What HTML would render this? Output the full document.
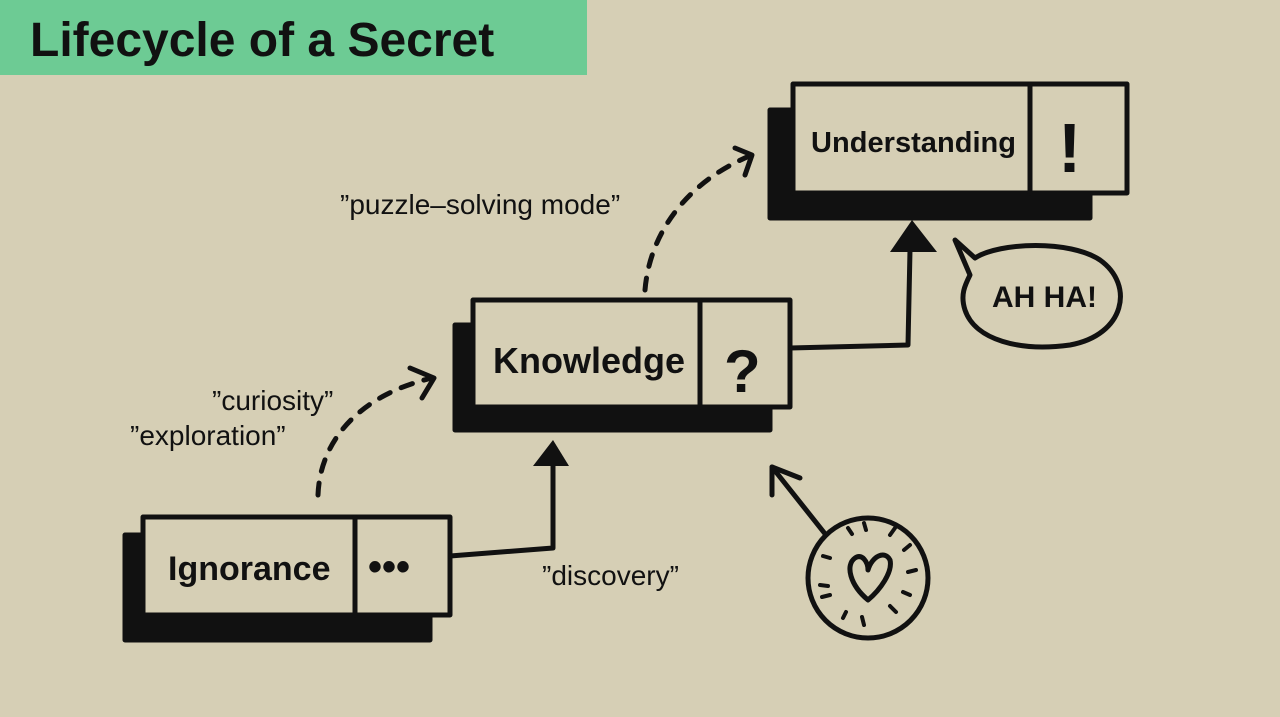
<!DOCTYPE html>
<html><head><style>
body{margin:0;width:1280px;height:717px;background:#d6cfb5;overflow:hidden}
svg{display:block}
text{font-family:"Liberation Sans",sans-serif;fill:#111}
</style></head><body>
<svg width="1280" height="717" viewBox="0 0 1280 717">
<rect width="1280" height="717" fill="#d6cfb5"/>
<rect x="0" y="0" width="587" height="75" fill="#6dcb94"/>
<text x="30" y="56" font-size="48" font-weight="bold">Lifecycle of a Secret</text>
<g stroke="#111" stroke-width="5" fill="none" stroke-linecap="round" stroke-linejoin="round">
<rect x="125" y="535" width="305" height="105" fill="#111"/>
<rect x="455" y="325" width="315" height="105" fill="#111"/>
<rect x="770" y="110" width="320" height="108" fill="#111"/>
<rect x="143" y="517" width="307" height="98" fill="#d6cfb5"/>
<line x1="355" y1="517" x2="355" y2="615"/>
<rect x="473" y="300" width="317" height="107" fill="#d6cfb5"/>
<line x1="700" y1="300" x2="700" y2="407"/>
<rect x="793" y="84" width="334" height="109" fill="#d6cfb5"/>
<line x1="1030" y1="84" x2="1030" y2="193"/>
<polyline points="450,556 553,548 553,465"/>
<polyline points="790,348 908,345 910,250"/>
<path d="M318,495 C320,440 360,395 432,378" stroke-dasharray="12 12"/>
<path d="M645,290 C650,230 690,180 752,155" stroke-dasharray="12 12"/>
<polyline points="410,368 434,378 422,398"/>
<polyline points="735,148 752,155 745,175"/>
<path d="M975,258 C1000,242 1070,240 1100,260 C1135,285 1125,335 1070,345 C1020,352 975,340 965,310 C960,295 965,285 970,275 L955,240 Z" fill="#d6cfb5"/>
<circle cx="868" cy="578" r="60"/>
<line x1="826" y1="535" x2="772" y2="467"/>
<polyline points="772,495 772,467 800,478"/>
<path d="M868,600 C850,585 845,565 855,558 C862,553 868,562 868,570 C872,556 885,550 890,560 C893,572 880,590 868,600 Z"/>
<g stroke-width="4">
<line x1="848" y1="528" x2="852" y2="534"/><line x1="864" y1="523" x2="866" y2="530"/>
<line x1="895" y1="528" x2="890" y2="535"/><line x1="910" y1="545" x2="904" y2="550"/>
<line x1="916" y1="570" x2="908" y2="572"/><line x1="910" y1="595" x2="903" y2="592"/>
<line x1="896" y1="612" x2="890" y2="606"/><line x1="864" y1="625" x2="862" y2="617"/>
<line x1="843" y1="618" x2="846" y2="612"/><line x1="822" y1="597" x2="830" y2="595"/>
<line x1="820" y1="585" x2="828" y2="586"/><line x1="823" y1="556" x2="830" y2="558"/>
</g>
</g>
<polygon points="533,466 553,440 569,466" fill="#111"/>
<polygon points="890,252 912,220 937,252" fill="#111"/>
<text x="168" y="580" font-size="34" font-weight="bold">Ignorance</text>
<text x="368" y="580" font-size="40" font-weight="bold">•••</text>
<text x="493" y="373" font-size="36" font-weight="bold">Knowledge</text>
<text x="724" y="392" font-size="60" font-weight="bold">?</text>
<text x="811" y="152" font-size="29" font-weight="bold" textLength="205">Understanding</text>
<text x="1058" y="172" font-size="70" font-weight="bold">!</text>
<text x="992" y="307" font-size="30" font-weight="bold">AH HA!</text>
<text x="212" y="410" font-size="28">”curiosity”</text>
<text x="130" y="445" font-size="28">”exploration”</text>
<text x="340" y="214" font-size="28">”puzzle–solving mode”</text>
<text x="542" y="585" font-size="28">”discovery”</text>
</svg>
</body></html>
